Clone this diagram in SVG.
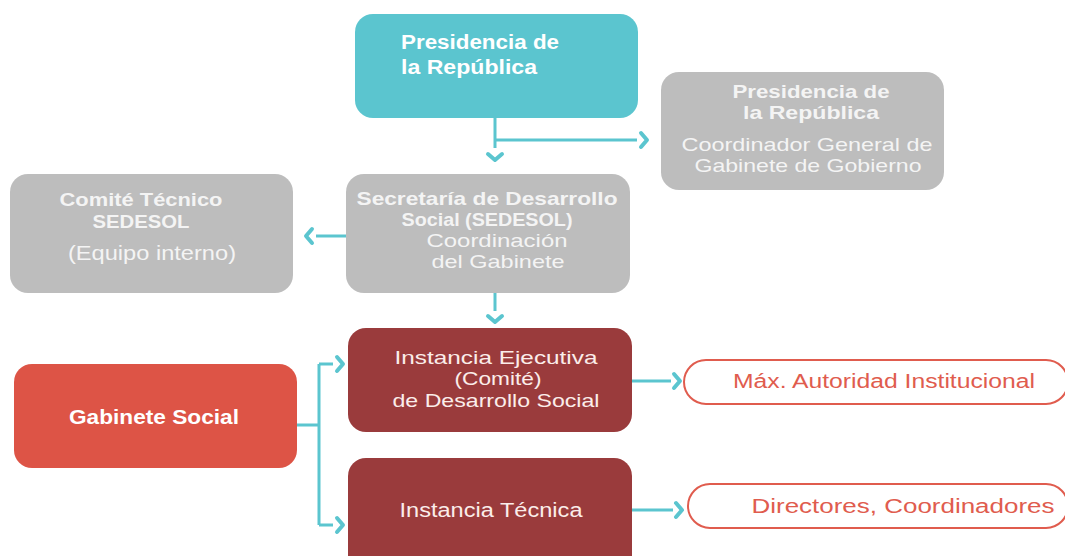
<svg xmlns="http://www.w3.org/2000/svg" width="1065" height="556" viewBox="0 0 1065 556">
<defs>
<style>
.teal{fill:#5BC5CF}
.grey{fill:#BDBDBD}
.red{fill:#DD5446}
.dred{fill:#9A3B3C}
.pill{fill:#FFFFFF;stroke:#E05C4E;stroke-width:2}
text{font-family:"Liberation Sans","Open Sans",sans-serif;text-anchor:middle}
.b{font-weight:700;font-size:19.5px;fill:#FFFFFF}
.bg{font-weight:700;font-size:18.5px;fill:#F4F4F4}
.r{font-size:18.5px;fill:#F4F4F4}
.rw{font-size:18.5px;fill:#FBEDEA}
.rs{font-size:20px;fill:#F4F4F4}
.rws{font-size:20px;fill:#FBEDEA}
.pt{font-size:20px;fill:#E05C4E}
.ln{fill:none;stroke:#5BC5CF;stroke-width:3}
.chev{fill:none;stroke:#5BC5CF;stroke-width:4;stroke-linecap:round;stroke-linejoin:round}
</style>
</defs>
<rect width="1065" height="556" fill="#FFFFFF"/>
<g id="connectors">
<path class="ln" d="M495 118 V148"/>
<path class="chev" d="M488 154 L495 160 L502 154"/>
<path class="ln" d="M495 140 H637"/>
<path class="chev" d="M641 133 L647 140 L641 147"/>
<path class="ln" d="M346 236 H316"/>
<path class="chev" d="M312 229 L306 236 L312 243"/>
<path class="ln" d="M495 293 V311"/>
<path class="chev" d="M488 316 L495 322 L502 316"/>
<path class="ln" d="M297 425 H319 M319 364 V525 M319 364 H333 M319 525 H333"/>
<path class="chev" d="M337 357 L343 364 L337 371"/>
<path class="chev" d="M337 518 L343 525 L337 532"/>
<path class="ln" d="M632 381 H671"/>
<path class="chev" d="M674 374 L680 381 L674 388"/>
<path class="ln" d="M632 510 H673"/>
<path class="chev" d="M676 503 L682 510 L676 517"/>
</g>
<g id="presidencia">
<rect class="teal" x="355" y="14" width="283" height="104" rx="18"/>
<text class="b" x="401" y="49" style="text-anchor:start" textLength="158" lengthAdjust="spacingAndGlyphs">Presidencia de</text>
<text class="b" x="401" y="74" style="text-anchor:start" textLength="136" lengthAdjust="spacingAndGlyphs">la República</text>
</g>
<g id="coordinador-general">
<rect class="grey" x="661" y="72" width="283" height="118" rx="18"/>
<text class="bg" x="811" y="98" textLength="157" lengthAdjust="spacingAndGlyphs">Presidencia de</text>
<text class="bg" x="811" y="119" textLength="136" lengthAdjust="spacingAndGlyphs">la República</text>
<text class="r" x="807" y="151" textLength="251" lengthAdjust="spacingAndGlyphs">Coordinador General de</text>
<text class="r" x="808" y="172" textLength="227" lengthAdjust="spacingAndGlyphs">Gabinete de Gobierno</text>
</g>
<g id="comite-tecnico">
<rect class="grey" x="10" y="174" width="283" height="119" rx="18"/>
<text class="bg" x="141" y="206" textLength="163" lengthAdjust="spacingAndGlyphs">Comité Técnico</text>
<text class="bg" x="141" y="228" textLength="97" lengthAdjust="spacingAndGlyphs">SEDESOL</text>
<text class="rs" x="152" y="260" textLength="168" lengthAdjust="spacingAndGlyphs">(Equipo interno)</text>
</g>
<g id="sedesol">
<rect class="grey" x="346" y="174" width="284" height="119" rx="18"/>
<text class="bg" x="487" y="205" textLength="261" lengthAdjust="spacingAndGlyphs">Secretaría de Desarrollo</text>
<text class="bg" x="487" y="226" textLength="171" lengthAdjust="spacingAndGlyphs">Social (SEDESOL)</text>
<text class="r" x="497" y="247" textLength="141" lengthAdjust="spacingAndGlyphs">Coordinación</text>
<text class="r" x="498" y="268" textLength="133" lengthAdjust="spacingAndGlyphs">del Gabinete</text>
</g>
<g id="gabinete-social">
<rect class="red" x="14" y="364" width="283" height="104" rx="18"/>
<text class="b" x="154" y="424" textLength="170" lengthAdjust="spacingAndGlyphs">Gabinete Social</text>
</g>
<g id="instancia-ejecutiva">
<rect class="dred" x="348" y="328" width="284" height="104" rx="18"/>
<text class="rw" x="496" y="364" textLength="203" lengthAdjust="spacingAndGlyphs">Instancia Ejecutiva</text>
<text class="rw" x="498" y="385" textLength="87" lengthAdjust="spacingAndGlyphs">(Comité)</text>
<text class="rw" x="496" y="407" textLength="207" lengthAdjust="spacingAndGlyphs">de Desarrollo Social</text>
</g>
<g id="instancia-tecnica">
<rect class="dred" x="348" y="458" width="284" height="120" rx="18"/>
<text class="rws" x="491" y="517" textLength="183" lengthAdjust="spacingAndGlyphs">Instancia Técnica</text>
</g>
<g id="max-autoridad">
<rect class="pill" x="684" y="360" width="384" height="44" rx="22"/>
<text class="pt" x="884" y="388" textLength="302" lengthAdjust="spacingAndGlyphs">Máx. Autoridad Institucional</text>
</g>
<g id="directores">
<rect class="pill" x="688" y="484" width="380" height="44" rx="22"/>
<text class="pt" x="903" y="513" textLength="303" lengthAdjust="spacingAndGlyphs">Directores, Coordinadores</text>
</g>
</svg>
